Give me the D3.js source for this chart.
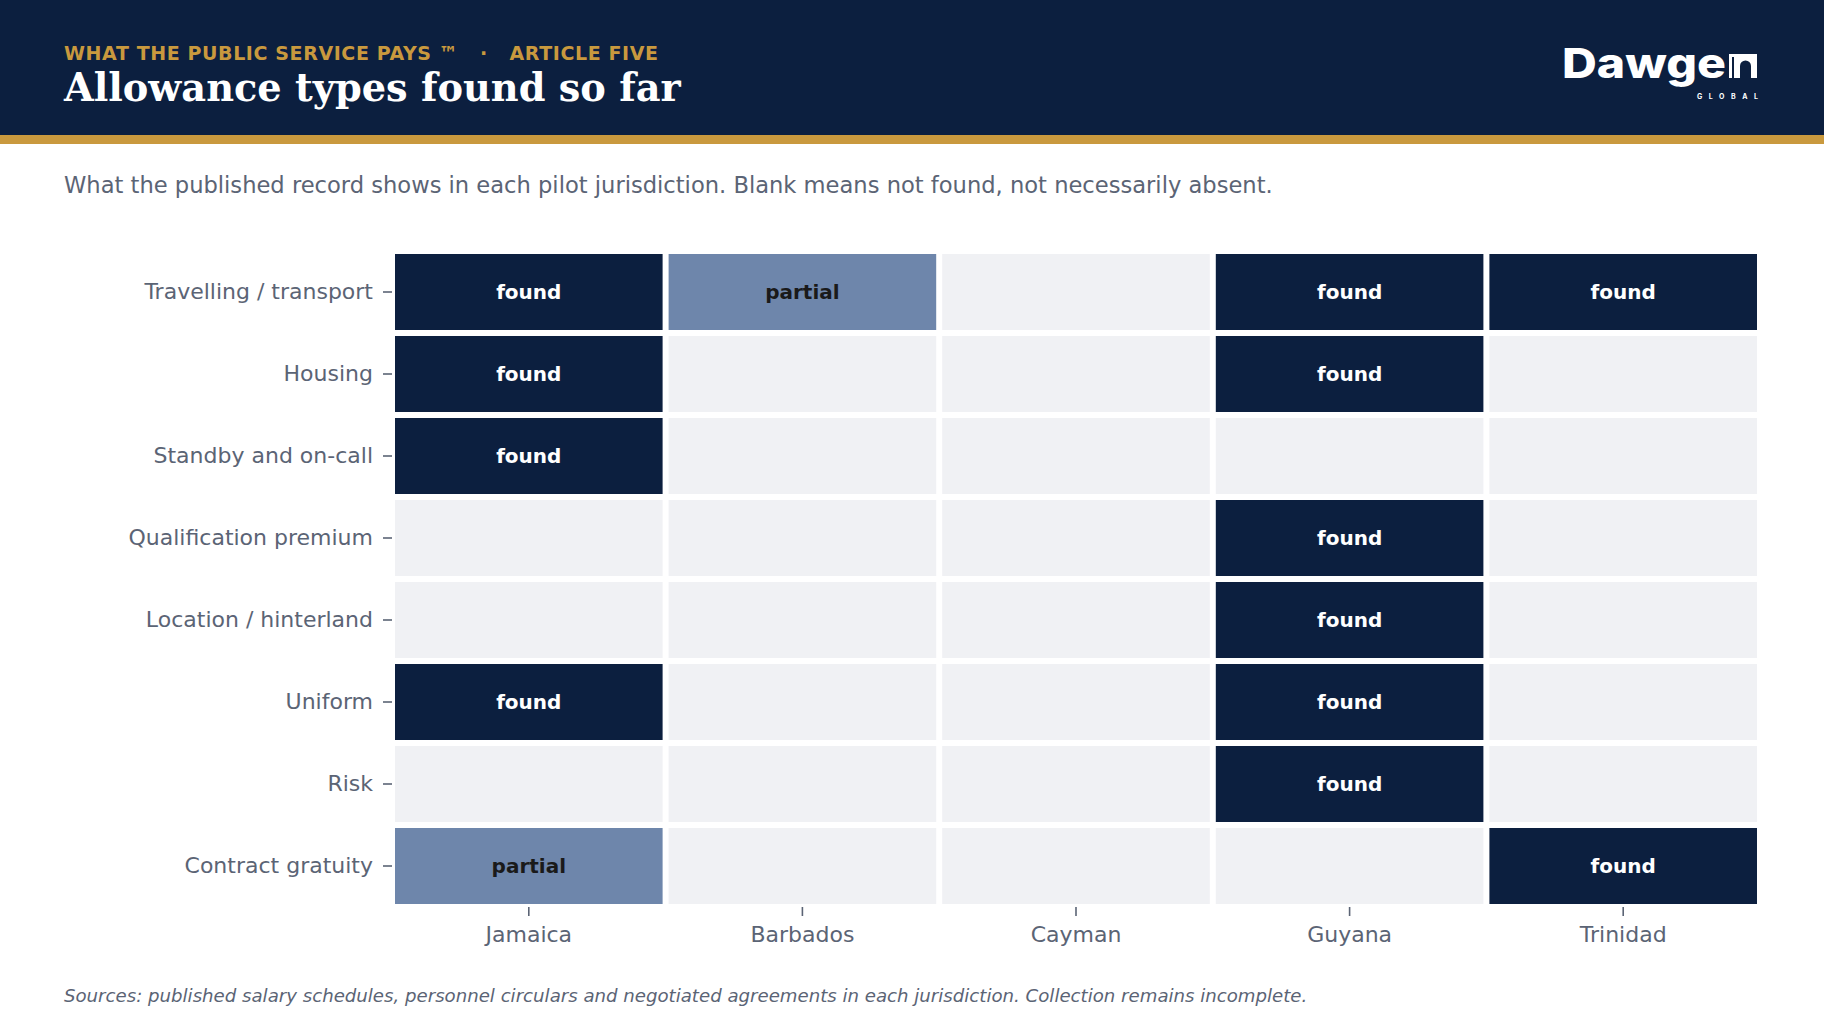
<!DOCTYPE html>
<html lang="en">
<head>
    <meta charset="UTF-8">
    <title>Allowance types found so far</title>
    <script src="https://d3js.org/d3.v7.min.js"></script>
    <style>
        body { margin: 0; background: #ffffff; }
        svg { display: block; }
        .axis text { font-family: "DejaVu Sans", sans-serif; font-size: 22px; fill: #5b6475; }
        .axis line { stroke: #5b6475; stroke-width: 1.6; }
        .axis .domain { display: none; }
    </style>
</head>
<body>
<div id="chart"></div>
<script>
    const NAVY = '#0c1f3f';
    const GOLD = '#c9993e';
    const PARTIAL = '#6e86ab';
    const BLANK = '#f0f1f4';
    const GREY = '#5b6475';

    // Allowance types (rows) and the pilot jurisdictions (columns)
    const allowances = [
        'Travelling / transport',
        'Housing',
        'Standby and on-call',
        'Qualification premium',
        'Location / hinterland',
        'Uniform',
        'Risk',
        'Contract gratuity'
    ];
    const jurisdictions = ['Jamaica', 'Barbados', 'Cayman', 'Guyana', 'Trinidad'];

    // What was found, one array per jurisdiction, in the same order as allowances
    const jamaica  = ['found', 'found', 'found', '', '', 'found', '', 'partial'];
    const barbados = ['partial', '', '', '', '', '', '', ''];
    const cayman   = ['', '', '', '', '', '', '', ''];
    const guyana   = ['found', 'found', '', 'found', 'found', 'found', 'found', ''];
    const trinidad = ['found', '', '', '', '', '', '', 'found'];

    const byJurisdiction = { Jamaica: jamaica, Barbados: barbados, Cayman: cayman, Guyana: guyana, Trinidad: trinidad };

    const W = 1824, H = 1026;
    const svg = d3.select('#chart').append('svg')
        .attr('width', W)
        .attr('height', H);

    // Header band
    svg.append('rect').attr('x', 0).attr('y', 0).attr('width', W).attr('height', 135).attr('fill', NAVY);
    svg.append('rect').attr('x', 0).attr('y', 135).attr('width', W).attr('height', 9).attr('fill', GOLD);

    svg.append('text')
        .attr('x', 64).attr('y', 60)
        .attr('fill', GOLD)
        .style('font-family', '"DejaVu Sans", sans-serif')
        .style('font-weight', 'bold')
        .style('font-size', '19px')
        .style('letter-spacing', '0.6px')
        .style('white-space', 'pre')
        .text('WHAT THE PUBLIC SERVICE PAYS \u2122   \u00b7   ARTICLE FIVE');

    svg.append('text')
        .attr('x', 64).attr('y', 101)
        .attr('fill', '#ffffff')
        .style('font-family', '"DejaVu Serif", serif')
        .style('font-weight', 'bold')
        .style('font-size', '38.3px')
        .text('Allowance types found so far');

    // Logo
    const logo = svg.append('g');
    logo.append('text')
        .attr('x', 1562).attr('y', 78)
        .attr('fill', '#ffffff')
        .attr('textLength', 164)
        .attr('lengthAdjust', 'spacingAndGlyphs')
        .style('font-family', 'Inter, sans-serif')
        .style('font-weight', 800)
        .style('font-size', '41px')
        .text('Dawge');
    logo.append('rect')
        .attr('x', 1729).attr('y', 54).attr('width', 28).attr('height', 24)
        .attr('fill', '#ffffff');
    logo.append('rect')
        .attr('x', 1732).attr('y', 57).attr('width', 2).attr('height', 21)
        .attr('fill', NAVY);
    logo.append('path')
        .attr('d', 'M1740,78 V66 A5.5,5.5 0 0 1 1751,66 V78 Z')
        .attr('fill', NAVY);
    logo.append('text')
        .attr('x', 1697).attr('y', 99)
        .attr('fill', '#ffffff')
        .attr('textLength', 61)
        .attr('lengthAdjust', 'spacing')
        .style('font-family', 'Inter, sans-serif')
        .style('font-weight', 700)
        .style('font-size', '7px')
        .text('GLOBAL');

    // Subtitle
    svg.append('text')
        .attr('x', 64).attr('y', 193)
        .attr('fill', GREY)
        .style('font-family', '"DejaVu Sans", sans-serif')
        .style('font-size', '22.6px')
        .text('What the published record shows in each pilot jurisdiction. Blank means not found, not necessarily absent.');

    // Grid scales
    const x = d3.scaleBand().domain(jurisdictions).range([392, 1760]);
    const y = d3.scaleBand().domain(allowances).range([251, 907]);
    const gap = 3;

    const cells = [];
    jurisdictions.forEach(j => {
        allowances.forEach((a, i) => {
            cells.push({ jurisdiction: j, allowance: a, status: byJurisdiction[j][i] });
        });
    });

    const fill = s => s === 'found' ? NAVY : (s === 'partial' ? PARTIAL : BLANK);

    const cell = svg.append('g').selectAll('g')
        .data(cells)
        .join('g');

    cell.append('rect')
        .attr('x', d => x(d.jurisdiction) + gap)
        .attr('y', d => y(d.allowance) + gap)
        .attr('width', x.bandwidth() - gap * 2)
        .attr('height', y.bandwidth() - gap * 2)
        .attr('fill', d => fill(d.status));

    cell.filter(d => d.status !== '')
        .append('text')
        .attr('x', d => x(d.jurisdiction) + x.bandwidth() / 2)
        .attr('y', d => y(d.allowance) + y.bandwidth() / 2)
        .attr('dy', '0.33em')
        .attr('text-anchor', 'middle')
        .attr('fill', d => d.status === 'found' ? '#ffffff' : '#1a1a1a')
        .style('font-family', '"DejaVu Sans", sans-serif')
        .style('font-weight', 'bold')
        .style('font-size', '20px')
        .text(d => d.status);

    // Axes
    svg.append('g')
        .attr('class', 'axis')
        .attr('transform', 'translate(392,0)')
        .call(d3.axisLeft(y).tickSize(9).tickPadding(10));

    svg.append('g')
        .attr('class', 'axis')
        .attr('transform', 'translate(0,907)')
        .call(d3.axisBottom(x).tickSize(9).tickPadding(10));

    // Footnote
    svg.append('text')
        .attr('x', 64).attr('y', 1002)
        .attr('fill', GREY)
        .style('font-family', '"DejaVu Sans", sans-serif')
        .style('font-style', 'italic')
        .style('font-size', '18.15px')
        .text('Sources: published salary schedules, personnel circulars and negotiated agreements in each jurisdiction. Collection remains incomplete.');
</script>
</body>
</html>
